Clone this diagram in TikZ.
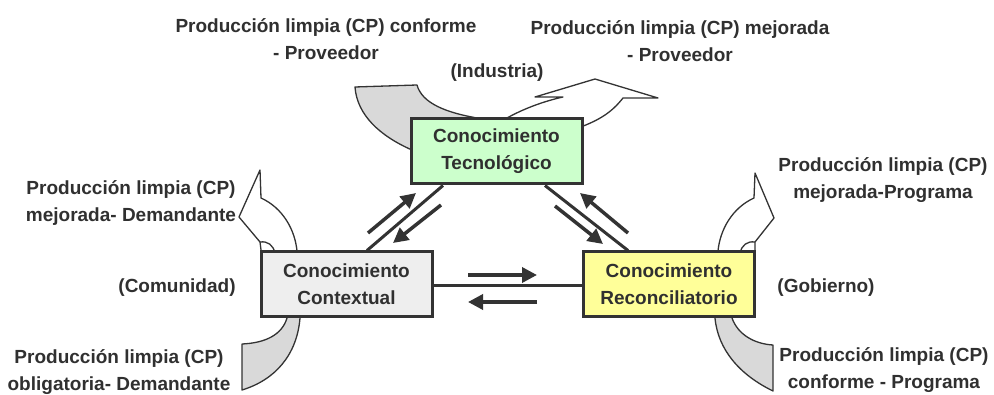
\documentclass[tikz,border=0pt]{standalone}
\usepackage{fontspec}
\setmainfont{Liberation Sans}
\usetikzlibrary{arrows.meta}
\definecolor{txt}{HTML}{303030}
\definecolor{edge}{HTML}{333333}
\definecolor{tecfill}{HTML}{CCFFCC}
\definecolor{ctxfill}{HTML}{EEEEEE}
\definecolor{recfill}{HTML}{FFFF99}
\definecolor{tailfill}{HTML}{D9D9D9}
\begin{document}
\begin{tikzpicture}[x=1pt,y=-1pt,
 lbl/.style={font=\fontsize{19}{26.5}\selectfont\bfseries, text=txt, align=center, inner sep=0pt},
 kbox/.style={draw=edge, line width=3pt, minimum width=171pt, minimum height=65pt, inner sep=0pt, align=center, font=\fontsize{19}{27}\selectfont\bfseries, text=txt},
 link/.style={draw=edge, line width=3pt},
 flow/.style={draw=edge, line width=3.5pt, -{Triangle[length=15pt,width=15pt]}},
 band/.style={draw=edge, line width=1.3pt, line join=round},
]
\useasboundingbox (0,0) rectangle (994,395);
\fill[white] (0,0) rectangle (994,395);

% top curved arrow (Industria)
\filldraw[band, fill=tailfill] (355,87) -- (417,85)
  .. controls (422,103) and (445,113) .. (483,119) -- (490,130) -- (412,150)
  .. controls (380,136) and (357,115) .. cycle;
\filldraw[band, fill=white] (505,130) -- (507,118)
  .. controls (525,108) and (545,101) .. (563,97) -- (535,97) -- (595,79)
  -- (658,98) -- (623,98) .. controls (612,112) and (600,120) .. (578,128) -- cycle;

% left curved arrows (Comunidad)
\filldraw[band, fill=white] (260,170) -- (261,198)
  .. controls (283,208) and (295,230) .. (297,251) -- (297,258) -- (262,258)
  -- (260,242) -- (239,217) -- cycle;
\draw[band] (260,242) .. controls (268,241) and (273,245) .. (275,253);
\filldraw[band, fill=tailfill] (287,312) -- (287,318)
  .. controls (282,335) and (265,343) .. (242,344) -- (242,390)
  .. controls (275,380) and (297,355) .. (300,318) -- (300,312) -- cycle;

% right curved arrows (Gobierno)
\filldraw[band, fill=white] (755,173) -- (754,198)
  .. controls (732,208) and (720,230) .. (718,251) -- (718,258) -- (755,258)
  -- (755,242) -- (774,218) -- cycle;
\draw[band] (755,242) .. controls (747,241) and (742,245) .. (740,253);
\filldraw[band, fill=tailfill] (732,312) -- (732,318)
  .. controls (738,335) and (755,344) .. (773,345) -- (773,391)
  .. controls (740,375) and (718,350) .. (715,318) -- (715,312) -- cycle;

% boxes
\node[kbox, fill=tecfill] (tec) at (496.5,151.5) {Conocimiento\\Tecnológico};
\node[kbox, fill=ctxfill] (ctx) at (346.5,284.5) {Conocimiento\\Contextual};
\node[kbox, fill=recfill] (rec) at (669,284.5) {Conocimiento\\Reconciliatorio};

% links
\draw[link] ([xshift=20.5pt]ctx.north) -- ([xshift=-53.5pt]tec.south);
\draw[link] ([xshift=48.5pt]tec.south) -- ([xshift=-41pt]rec.north);
\draw[link] ([yshift=-1.5pt]ctx.east) -- ([yshift=-1.5pt]rec.west);

% flow arrows
\draw[flow] (368,233) -- (416,193);
\draw[flow] (441,205) -- (393,243);
\draw[flow] (555,206) -- (603,244);
\draw[flow] (628,233) -- (580,193);
\draw[flow] (468,275) -- (537,275);
\draw[flow] (537,302) -- (468,302);

% labels
\node[lbl] (l1) at (326,39) {Producción limpia (CP) conforme\\- Proveedor};
\node[lbl] (l2) at (680,41) {Producción limpia (CP) mejorada\\- Proveedor};
\node[lbl] (l3) at (497,73) {(Industria)};
\node[lbl] (l4) at (131,203) {Producción limpia (CP)\\mejorada- Demandante};
\node[lbl] (l5) at (177,288) {(Comunidad)};
\node[lbl] (l6) at (119,372) {Producción limpia (CP)\\obligatoria- Demandante};
\node[lbl] (l7) at (883,180) {Producción limpia (CP)\\mejorada-Programa};
\node[lbl] (l8) at (826,288) {(Gobierno)};
\node[lbl] (l9) at (884,370) {Producción limpia (CP)\\conforme - Programa};
\end{tikzpicture}
\end{document}
